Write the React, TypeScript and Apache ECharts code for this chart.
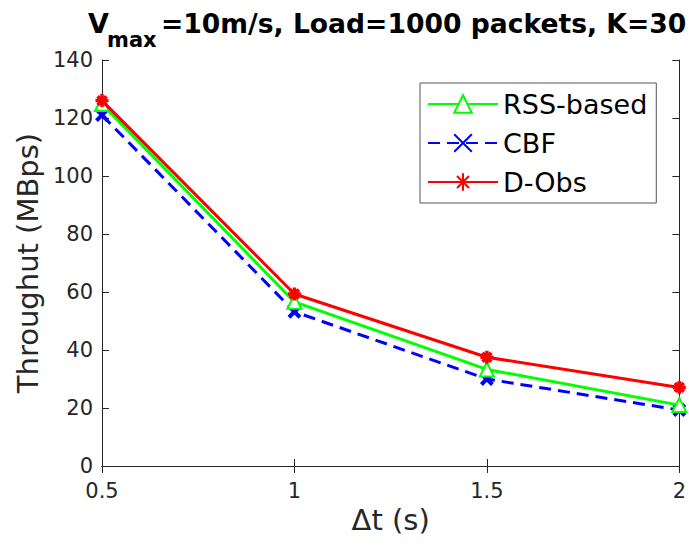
import React, { useEffect, useRef } from "react";
import * as echarts from "echarts";

const xValues = [0.5, 1, 1.5, 2];
const rssBased = [124.8, 56.6, 33.3, 21];
const cbf = [121, 53.2, 30, 19.3];
const dObs = [126, 59.3, 37.5, 27.1];
const seriesNames = ["RSS-based", "CBF", "D-Obs"];
const titleMain = "=10m/s, Load=1000 packets, K=30";
const xName = "\u0394t (s)";
const yName = "Throughut (MBps)";

const FONT = "DejaVu Sans";
const TXT = "#262626";
const crossPath = "path://M0,0L10,10M10,0L0,10";
const starPath = "path://M5,0L5,10M0,5L10,5M1.6,1.6L8.4,8.4M8.4,1.6L1.6,8.4";

function pairs(ys: number[]) {
  return xValues.map((x, i) => [x, ys[i]]);
}

export default function App() {
  const ref = useRef<HTMLDivElement>(null);
  useEffect(() => {
    if (!ref.current) return;
    const chart = echarts.init(ref.current, undefined, { renderer: "svg" });
    const hiddenAxis = {
      axisLine: { show: true, lineStyle: { color: TXT, width: 1 } },
      axisTick: { show: true, inside: true, length: 7, lineStyle: { color: TXT } },
      axisLabel: { show: false },
      splitLine: { show: false },
    };
    chart.setOption({
      animation: false,
      backgroundColor: "#fff",
      grid: { left: 102, right: 6, top: 60, bottom: 86 },
      graphic: [
        {
          type: "text",
          x: 109,
          y: 23,
          style: {
            text: "V",
            font: `bold 27px "${FONT}"`,
            fill: "#000",
            textAlign: "right",
            textVerticalAlign: "middle",
          },
        },
        {
          type: "text",
          x: 107,
          y: 40,
          style: {
            text: "max",
            font: `bold 21px "${FONT}"`,
            fill: "#000",
            textAlign: "left",
            textVerticalAlign: "middle",
          },
        },
        {
          type: "text",
          x: 161,
          y: 23,
          style: {
            text: titleMain,
            font: `bold 26.6px "${FONT}"`,
            fill: "#000",
            textAlign: "left",
            textVerticalAlign: "middle",
          },
        },
      ],
      legend: {
        orient: "vertical",
        left: 420,
        top: 83,
        padding: [6, 9, 6, 7],
        itemWidth: 70,
        itemHeight: 22,
        itemGap: 9,
        borderColor: "#555",
        borderWidth: 1,
        backgroundColor: "#fff",
        textStyle: { fontFamily: FONT, fontSize: 27, color: "#000", lineHeight: 30 },
        data: seriesNames,
      },
      xAxis: [
        {
          type: "value",
          min: 0.5,
          max: 2,
          interval: 0.5,
          name: xName,
          nameLocation: "middle",
          nameGap: 37,
          nameTextStyle: { fontFamily: FONT, fontSize: 29, color: TXT },
          axisLine: { show: true, lineStyle: { color: TXT, width: 1 } },
          axisTick: { show: true, inside: true, length: 7, lineStyle: { color: TXT } },
          axisLabel: { fontFamily: FONT, fontSize: 21, color: TXT, margin: 14 },
          splitLine: { show: false },
        },
        { type: "value", position: "top", min: 0.5, max: 2, interval: 0.5, ...hiddenAxis },
      ],
      yAxis: [
        {
          type: "value",
          min: 0,
          max: 140,
          interval: 20,
          name: yName,
          nameLocation: "middle",
          nameGap: 58,
          nameTextStyle: { fontFamily: FONT, fontSize: 29, color: TXT },
          axisLine: { show: true, lineStyle: { color: TXT, width: 1 } },
          axisTick: { show: true, inside: true, length: 7, lineStyle: { color: TXT } },
          axisLabel: { fontFamily: FONT, fontSize: 21, color: TXT, margin: 9 },
          splitLine: { show: false },
        },
        { type: "value", position: "right", min: 0, max: 140, interval: 20, ...hiddenAxis },
      ],
      series: [
        {
          name: seriesNames[0],
          type: "line",
          data: pairs(rssBased),
          symbol: "emptyTriangle",
          symbolSize: 14,
          itemStyle: { color: "#00ff00", borderColor: "#00ff00", borderWidth: 2.5 },
          lineStyle: { color: "#00ff00", width: 3 },
          z: 3,
        },
        {
          name: seriesNames[1],
          type: "line",
          data: pairs(cbf),
          symbol: crossPath,
          symbolSize: 11,
          itemStyle: { color: "#0000ff", borderColor: "#0000ff", borderWidth: 4 },
          lineStyle: { color: "#0000ff", width: 3, type: [12, 7] },
          z: 2,
        },
        {
          name: seriesNames[2],
          type: "line",
          data: pairs(dObs),
          symbol: starPath,
          symbolSize: 13,
          itemStyle: { color: "#ff0000", borderColor: "#ff0000", borderWidth: 3.5 },
          lineStyle: { color: "#ff0000", width: 3 },
          z: 4,
        },
      ],
    });
    return () => chart.dispose();
  }, []);
  return <div ref={ref} style={{ width: 689, height: 552, position: "absolute", left: 0, top: 0 }} />;
}
